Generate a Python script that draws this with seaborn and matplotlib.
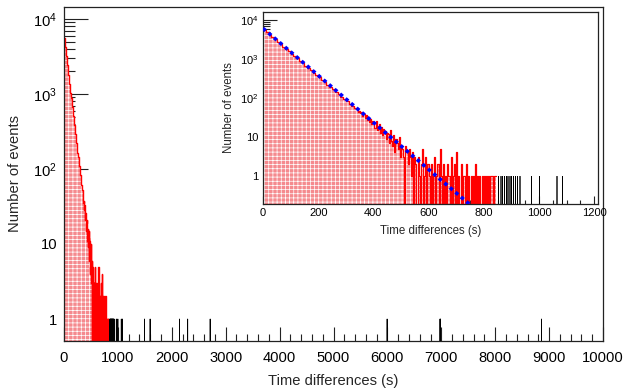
import numpy as np
import pandas as pd
import matplotlib
matplotlib.use("Agg")
import matplotlib.pyplot as plt
import seaborn as sns
from matplotlib.ticker import FixedLocator, LogLocator, MultipleLocator, NullFormatter, FixedFormatter

# ---------------- data ----------------
# coarse bins (10 s) for the smooth part of the decay
smooth_counts = [5600, 4900, 4200, 3650, 3200, 2750, 2400, 2080, 1800, 1580,
                 1360, 1190, 1030, 890, 780, 670, 590, 510, 440, 385,
                 335, 290, 250, 220, 190, 165, 145, 125, 108, 94,
                 82, 71, 62, 54]
# fine bins (4 s) for the noisy tail, 340 s .. 844 s
tail_counts = [52, 44, 47, 40, 43, 35, 38, 30, 36, 28, 33, 24, 29, 21, 26,
               24, 17, 26, 15, 19, 21, 13, 18, 11, 16, 14, 9, 13,
               12, 7, 15, 8, 6, 11, 4, 9, 7, 5, 10, 3, 6,
               5, 3, 0, 6, 4, 2, 5, 3, 1, 4, 0, 3,
               2, 0, 3, 1, 0, 2, 5, 0, 1, 3, 0, 2,
               1, 0, 2, 0, 1, 3, 0, 1, 2, 0, 5, 1, 0,
               2, 0, 1, 0, 2, 1, 0, 3, 0, 1, 2, 0, 4,
               0, 1, 0, 2, 0, 1, 1, 0, 2, 0, 1, 0,
               1, 0, 1, 0, 2, 0, 1, 0, 1, 0, 1, 0,
               1, 0, 1, 0, 1, 0, 1, 1, 0, 1, 1]
smooth_edges = list(range(0, 340, 10))
tail_edges = list(range(340, 845, 4))

# isolated long time differences (single events, drawn black)
late_event_times = [852, 860, 866, 873, 879, 886, 893, 899, 906, 913, 920, 929,
                    971, 999, 1063, 1083, 1492, 1598, 2142, 2294, 2712,
                    5995, 6976, 6984, 8859]

# exponential fit (straight on log scale): end points
fit_t = [0, 760]
fit_counts = [6100, 0.16]

edges = [float(e) for e in smooth_edges + tail_edges]
counts = np.array(smooth_counts + tail_counts, dtype=float)
centers = 0.5 * (np.array(edges[:-1]) + np.array(edges[1:]))
hist_df = pd.DataFrame({"t": centers, "n": counts})
late_df = pd.DataFrame({"t": late_event_times})
fit_df = pd.DataFrame({"t": fit_t, "n": fit_counts})
late_bins = [float(b) for b in range(845, 10002, 1)]

# ---------------- style ----------------
sns.set_theme(style="white")
plt.rcParams["font.family"] = ["Liberation Sans", "DejaVu Sans"]
plt.rcParams["mathtext.fontset"] = "custom"
plt.rcParams["mathtext.rm"] = "Liberation Sans"
plt.rcParams["mathtext.it"] = "Liberation Sans:italic"
plt.rcParams["axes.edgecolor"] = "#222222"
plt.rcParams["axes.linewidth"] = 0.9
plt.rcParams["hatch.linewidth"] = 0.5

W, H = 625, 390
fig = plt.figure(figsize=(W / 100, H / 100), dpi=100)
fig.patch.set_facecolor("white")

def frac(l, t, r, b):
    return [l / W, 1 - b / H, (r - l) / W, (b - t) / H]

ax = fig.add_axes(frac(64, 7, 603, 341))
ins = fig.add_axes(frac(263, 12, 598, 204))

FILL = "#f58a8e"
RED = "#ff0000"

def draw(a, lw_out, lw_late):
    # hatched pink fill
    sns.histplot(data=hist_df, x="t", weights="n", bins=edges, element="step",
                 fill=True, color=FILL, alpha=1, edgecolor="white", linewidth=0,
                 hatch="++++", ax=a)
    # red outline
    sns.histplot(data=hist_df, x="t", weights="n", bins=edges, element="step",
                 fill=False, color=RED, linewidth=lw_out, ax=a)
    # black single events
    sns.histplot(data=late_df, x="t", bins=late_bins, element="step",
                 fill=False, color="black", linewidth=lw_late, ax=a)
    a.set_yscale("log")

draw(ax, 1.0, 0.6)
draw(ins, 0.9, 0.5)
sns.lineplot(data=fit_df, x="t", y="n", ax=ins, color="#0000ff", linewidth=2.6,
             linestyle=(0, (1.0, 1.0)), zorder=5)

ylabels_txt = ["1", "10", r"$10^{2}$", r"$10^{3}$", r"$10^{4}$"]
yticks = [1, 10, 100, 1000, 10000]

# main axes
ax.set_xlim(0, 10000)
ax.set_ylim(0.509, 14450)
ax.xaxis.set_major_locator(MultipleLocator(1000))
ax.xaxis.set_minor_locator(MultipleLocator(200))
ax.yaxis.set_major_locator(FixedLocator(yticks))
ax.yaxis.set_major_formatter(FixedFormatter(ylabels_txt))
ax.yaxis.set_minor_locator(LogLocator(base=10, subs=np.arange(2, 10), numticks=20))
ax.yaxis.set_minor_formatter(NullFormatter())
ax.tick_params(axis="both", which="both", direction="in", colors="#222222",
               labelcolor="black", bottom=True, left=True, top=False, right=False)
ax.tick_params(axis="x", which="major", length=10, width=0.8, labelsize=10.6, pad=7)
ax.tick_params(axis="x", which="minor", length=5, width=0.8)
ax.tick_params(axis="y", which="major", length=17, width=0.8, labelsize=10.6, pad=5)
ax.tick_params(axis="y", which="minor", length=8, width=0.8)
ax.set_xlabel("Time differences (s)", fontsize=10.6, labelpad=7)
ax.set_ylabel("Number of events", fontsize=10.6, labelpad=8)

# inset axes
ins.set_facecolor("white")
ins.set_xlim(0, 1214)
ins.set_ylim(0.191, 16000)
ins.xaxis.set_major_locator(MultipleLocator(200))
ins.xaxis.set_minor_locator(MultipleLocator(50))
ins.yaxis.set_major_locator(FixedLocator(yticks))
ins.yaxis.set_major_formatter(FixedFormatter(ylabels_txt))
ins.yaxis.set_minor_locator(LogLocator(base=10, subs=np.arange(2, 10), numticks=20))
ins.yaxis.set_minor_formatter(NullFormatter())
ins.tick_params(axis="both", which="both", direction="in", colors="#222222",
                labelcolor="black", bottom=True, left=True, top=False, right=False)
ins.tick_params(axis="x", which="major", length=6, width=0.8, labelsize=8, pad=3)
ins.tick_params(axis="x", which="minor", length=3, width=0.8)
ins.tick_params(axis="y", which="major", length=10, width=0.8, labelsize=8, pad=3)
ins.tick_params(axis="y", which="minor", length=5, width=0.8)
ins.set_xlabel("Time differences (s)", fontsize=8.3, labelpad=5)
ins.set_ylabel("Number of events", fontsize=8.3, labelpad=4)

fig.savefig("out.png", dpi=100)
